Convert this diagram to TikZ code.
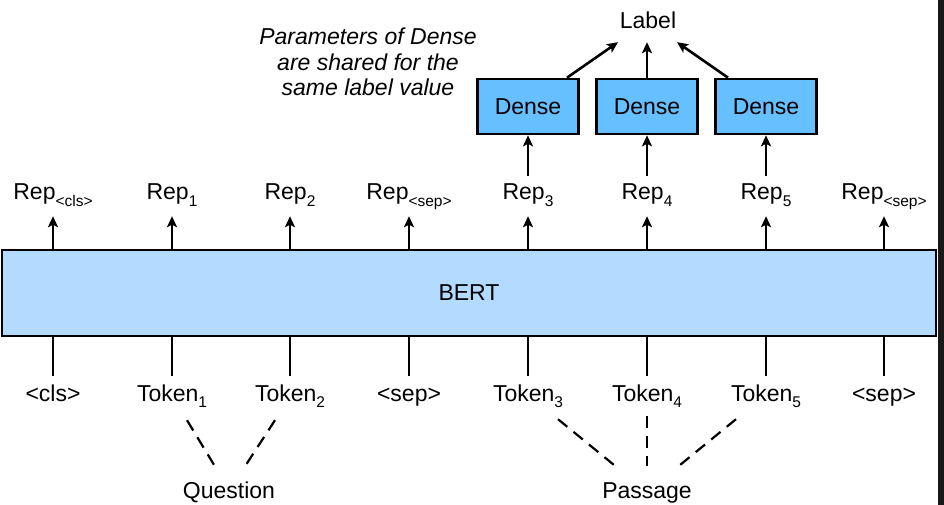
\documentclass[tikz,border=0pt]{standalone}
\usepackage{fontspec}
\setmainfont{Liberation Sans}
\usetikzlibrary{arrows.meta,calc}
\definecolor{bertblue}{HTML}{B3DAFF}
\definecolor{denseblue}{HTML}{66C0FF}
\newcommand{\mysub}[1]{\raisebox{-0.28em}{\fontsize{15.5}{15.5}\selectfont #1}}
\begin{document}
\begin{tikzpicture}[x=1pt,y=-1pt,
  every node/.style={font=\fontsize{23}{25.5}\selectfont},
  lbl/.style={inner sep=0pt, text height=16pt, text depth=5pt, anchor=base},
  densebox/.style={draw=black, line width=2.6pt, fill=denseblue, minimum width=101pt, minimum height=55pt, inner sep=0pt},
  arr/.style={line width=2.6pt, -{Stealth[length=11pt,width=10pt,inset=2.5pt]}},
  ln/.style={line width=2.6pt},
  dsh/.style={line width=2.2pt, dash pattern=on 12pt off 8pt}]
\useasboundingbox (0,0) rectangle (944,505);
\fill[white] (0,0) rectangle (944,505);
\fill[black!90] (938,0) rectangle (944,505);

% BERT
\node[draw=black, line width=2.6pt, fill=bertblue, minimum width=934pt, minimum height=86pt, inner sep=0pt] (bert) at (469,293) {};
\node at (469,293) (berttext) {BERT};

% Rep labels
\node[lbl] (r0) at (53,200) {Rep\mysub{<cls>}};
\node[lbl] (r1) at (172,200) {Rep\mysub{1}};
\node[lbl] (r2) at (290,200) {Rep\mysub{2}};
\node[lbl] (r3) at (409,200) {Rep\mysub{<sep>}};
\node[lbl] (r4) at (528,200) {Rep\mysub{3}};
\node[lbl] (r5) at (647,200) {Rep\mysub{4}};
\node[lbl] (r6) at (766,200) {Rep\mysub{5}};
\node[lbl] (r7) at (884,200) {Rep\mysub{<sep>}};

\foreach \i/\x in {0/53,1/172,2/290,3/409,4/528,5/647,6/766,7/884}{
  \draw[arr, shorten >=11pt] (bert.north -| \x,0) -- (r\i.south -| \x,0);
}

% Tokens
\node[lbl] (t0) at (53,401) {<cls>};
\node[lbl] (t1) at (172,401) {Token\mysub{1}};
\node[lbl] (t2) at (290,401) {Token\mysub{2}};
\node[lbl] (t3) at (409,401) {<sep>};
\node[lbl] (t4) at (528,401) {Token\mysub{3}};
\node[lbl] (t5) at (647,401) {Token\mysub{4}};
\node[lbl] (t6) at (766,401) {Token\mysub{5}};
\node[lbl] (t7) at (884,401) {<sep>};

\foreach \i/\x in {0/53,1/172,2/290,3/409,4/528,5/647,6/766,7/884}{
  \draw[ln, shorten >=9pt] (bert.south -| \x,0) -- (t\i.north -| \x,0);
}

% Question / Passage
\node[lbl] (q) at (229,498) {Question};
\node[lbl] (p) at (647,498) {Passage};
\draw[dsh] ($(t1.south)+(15,14)$) -- ($(q.north)+(-15,-17)$);
\draw[dsh] ($(t2.south)+(-15,14)$) -- ($(q.north)+(17,-17)$);
\draw[dsh] ($(t4.south)+(30,13)$) -- ($(p.north)+(-32,-16)$);
\draw[dsh] ($(t5.south)+(0,10)$) -- ($(p.north)+(0,-16)$);
\draw[dsh] ($(t6.south)+(-30,13)$) -- ($(p.north)+(32,-16)$);

% Dense boxes
\node[densebox] (d1) at (528,106.5) {Dense};
\node[densebox] (d2) at (647,106.5) {Dense};
\node[densebox] (d3) at (766,106.5) {Dense};
\draw[arr, shorten <=8pt] (r4.north) -- (d1.south);
\draw[arr, shorten <=8pt] (r5.north) -- (d2.south);
\draw[arr, shorten <=8pt] (r6.north) -- (d3.south);

% Label
\node[lbl] (label) at (648,29) {Label};
\draw[arr] ($(d1.north)+(39,0)$) -- ($(label.south)+(-30,8)$);
\draw[arr] (d2.north) -- ($(label.south)+(-1,8)$);
\draw[arr] ($(d3.north)+(-38,0)$) -- ($(label.south)+(29,8)$);

% note
\node[align=center, font=\fontsize{23}{25.5}\selectfont\itshape, inner sep=0pt] (note) at (368,62) {Parameters of Dense\\are shared for the\\same label value};
\end{tikzpicture}
\end{document}
